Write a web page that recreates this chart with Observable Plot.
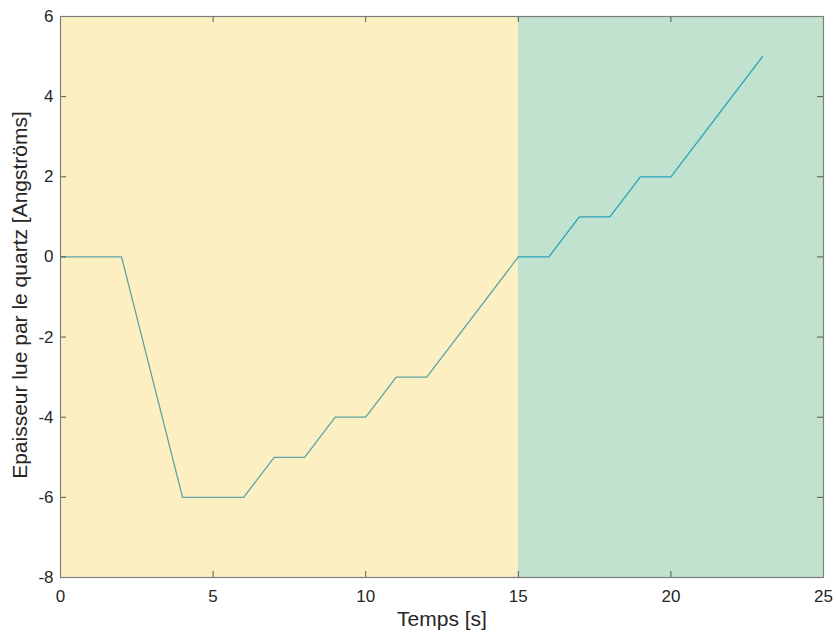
<!DOCTYPE html>
<html><head><meta charset="utf-8">
<script src="https://cdn.jsdelivr.net/npm/d3@7"></script>
<script src="https://cdn.jsdelivr.net/npm/@observablehq/plot@0.6"></script>
<style>body{margin:0;background:#fff}</style>
</head><body><div id="chart"></div>
<script>
const times = [0,2,4,6,7,8,9,10,11,12,15,16,17,18,19,20,23];
const thickness = [0,0,-6,-6,-5,-5,-4,-4,-3,-3,0,0,1,1,2,2,5];
const regionStart = [0,15];
const regionEnd = [15,25];
const regionColor = ["#fcf0c2","#c1e2cf"];
const lineColor = ["#5ea2a6","#2aa3b6"];
const xTicks = [0,5,10,15,20,25];
const yTicks = [-8,-6,-4,-2,0,2,4,6];
const xLabel = "Temps [s]";
const yLabel = "Epaisseur lue par le quartz [Angströms]";

const data = times.map((t,i)=>({t, v: thickness[i]}));
const regions = regionStart.map((s,i)=>({x1:s, x2:regionEnd[i], fill:regionColor[i]}));
const W=836,H=638, mt=16, mb=61, ml=60, mr=13;
const ph = H-mt-mb, pw = W-ml-mr;
const tl = 6;

const plot = Plot.plot({
  width: W, height: H,
  marginTop: mt, marginBottom: mb, marginLeft: ml, marginRight: mr,
  x: {domain:[0,25], ticks: xTicks},
  y: {domain:[-8,6], ticks: yTicks},
  style: {fontFamily: "'Liberation Sans', Arial, sans-serif", fontSize: "17px", color: "#262626", background: "#fff"},
  marks: [
    Plot.rect(regions, {x1:"x1", x2:"x2", fill: d=>d.fill}),
    Plot.line(data.filter(d=>d.t<=15), {x:"t", y:"v", stroke: lineColor[0], strokeWidth: 1.3}),
    Plot.line(data.filter(d=>d.t>=15), {x:"t", y:"v", stroke: lineColor[1], strokeWidth: 1.3}),
    Plot.ruleX(xTicks, {x: d=>d, insetTop: ph-tl, stroke:"#333", strokeWidth: 0.8}),
    Plot.ruleX(xTicks, {x: d=>d, insetBottom: ph-tl, stroke:"#333", strokeWidth: 0.8}),
    Plot.ruleY(yTicks, {y: d=>d, insetRight: pw-tl, stroke:"#333", strokeWidth: 0.8}),
    Plot.ruleY(yTicks, {y: d=>d, insetLeft: pw-tl, stroke:"#333", strokeWidth: 0.8}),
    Plot.frame({stroke:"#7d7d7d", strokeWidth: 1.2}),
    Plot.axisX(xTicks, {tickSize: 0, tickPadding: 12, fontSize: 17, label: null, tickFormat: d=>String(d), fill:"#262626"}),
    Plot.axisY(yTicks, {tickSize: 0, tickPadding: 7, fontSize: 17, label: null, tickFormat: d=>String(d), fill:"#262626"}),
    Plot.text([xLabel], {text: d=>d, frameAnchor: "bottom", dy: 48, fontSize: 21, fill:"#262626"}),
    Plot.text([yLabel], {text: d=>d, frameAnchor: "left", textAnchor: "middle", dx: -40, dy: -2, rotate: -90, fontSize: 21, fill:"#262626"})
  ]
});
document.getElementById("chart").appendChild(plot);
</script>
</body></html>
